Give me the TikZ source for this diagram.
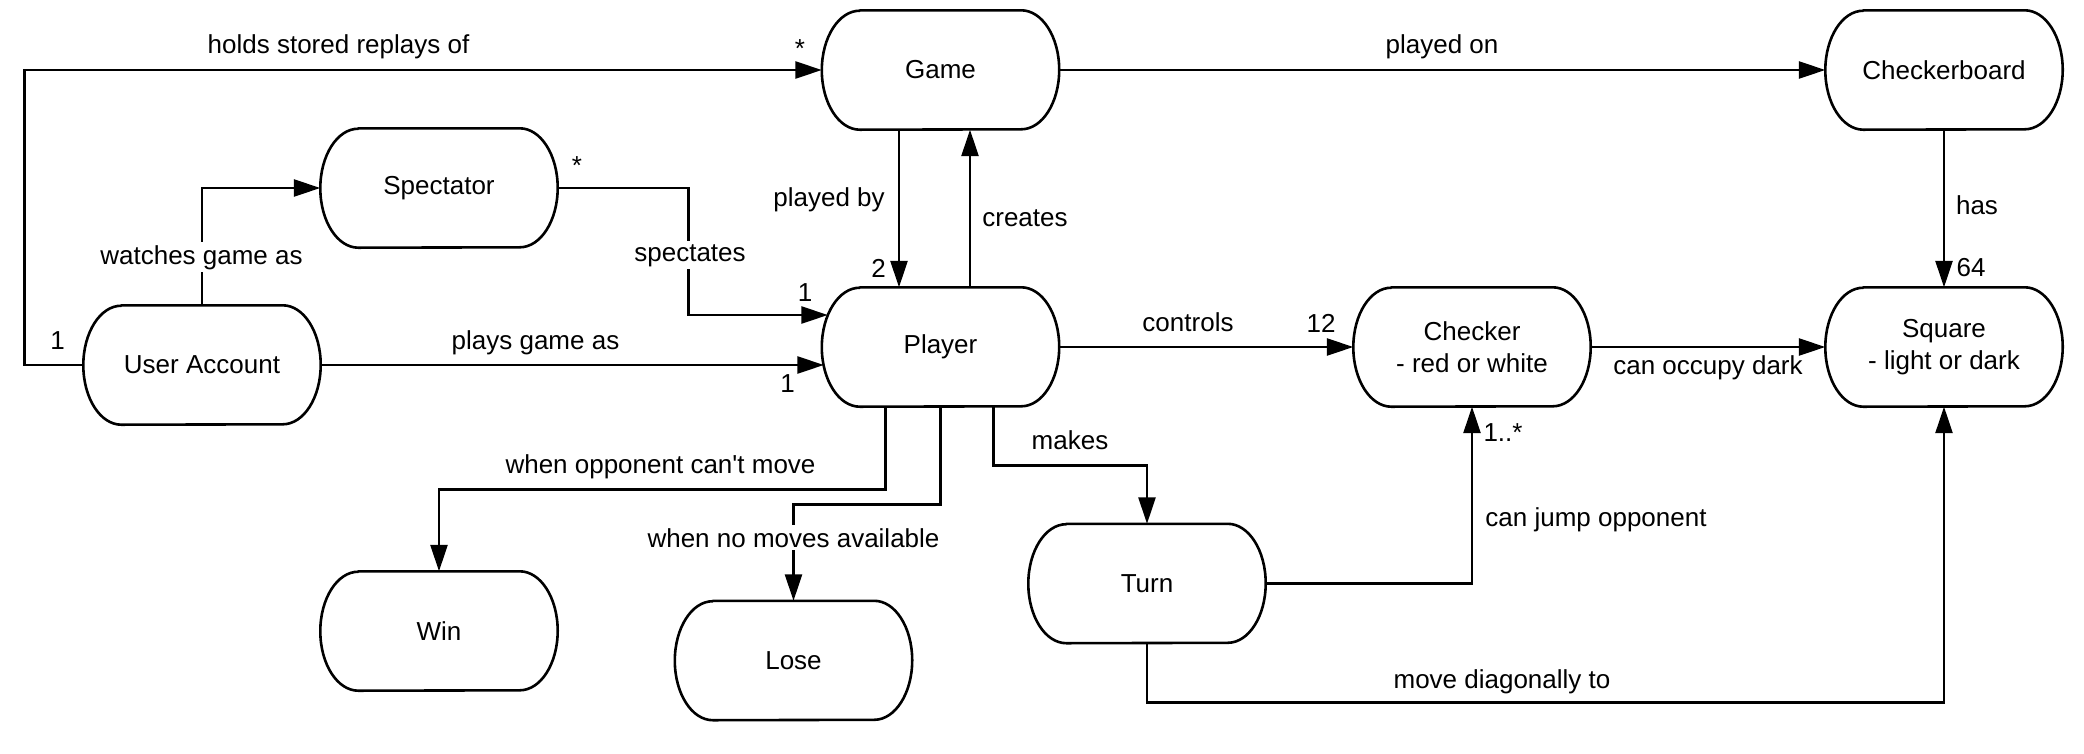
\documentclass[tikz,border=0pt]{standalone}
\usepackage{fontspec}
\setmainfont{Liberation Sans}[Ligatures=TeXOff]
\usetikzlibrary{arrows.meta}
\tikzset{
  x=1pt, y=1pt,
  termbox/.style={minimum width=237pt, minimum height=119pt, inner sep=0pt, align=center, font=\fontsize{26pt}{32pt}\selectfont},
  outline/.style={line width=2.6pt, line join=round},
  conn/.style={line width=2.6pt, -{Triangle[length=26.5pt,width=17pt]}},
  lbl/.style={font=\fontsize{26pt}{32pt}\selectfont, inner sep=0pt, anchor=base},
  lblw/.style={lbl, fill=white, inner xsep=2pt, inner ysep=3pt}
}
\newcommand{\termnode}[4]{%
  \node[termbox] (#1) at (#2,#3) {#4};
  \draw[outline] ([xshift=38pt]#1.north west) -- ([xshift=-38pt]#1.north east)
    arc[start angle=90, end angle=-90, x radius=38pt, y radius=59.5pt]
    -- ([xshift=38pt]#1.south west)
    arc[start angle=270, end angle=90, x radius=38pt, y radius=59.5pt] -- cycle;
}
\begin{document}
\begin{tikzpicture}
\useasboundingbox (0,0) rectangle (2084,-753);
\termnode{game}{940.5}{-70}{Game}
\termnode{board}{1944}{-70}{Checkerboard}
\termnode{spec}{439}{-188}{Spectator}
\termnode{ua}{202}{-365}{User Account}
\termnode{player}{940.5}{-347}{Player}
\termnode{checker}{1472}{-347}{Checker\\- red or white}
\termnode{square}{1944}{-347}{Square\\- light or dark}
\termnode{turn}{1147}{-583.5}{Turn}
\termnode{win}{439}{-631}{Win}
\termnode{lose}{793.5}{-660.5}{Lose}

% connectors
\draw[conn] (ua.west) -- ++(-59,0) |- (game.west);
\draw[conn] (ua.north) |- (spec.west);
\draw[conn] (spec.east) -- ++(131,0) |- ([xshift=6pt,yshift=32pt]player.west);
\draw[conn] (ua.east) -- ([xshift=2pt]player.west |- ua.east);
\draw[conn] ([xshift=-41.5pt]game.south) -- ([xshift=-41.5pt]player.north);
\draw[conn] ([xshift=29.5pt]player.north) -- ([xshift=29.5pt]game.south);
\draw[conn] (game.east) -- (board.west);
\draw[conn] (board.south) -- (square.north);
\draw[conn] (player.east) -- (checker.west);
\draw[conn] (checker.east) -- (square.west);
\draw[conn] ([xshift=-55pt]player.south) -- ++(0,-82.5) -| (win.north);
\draw[conn] (player.south) -- ++(0,-97.5) -| (lose.north);
\draw[conn] ([xshift=53pt]player.south) -- ++(0,-59) -| (turn.north);
\draw[conn] (turn.east) -| (checker.south);
\draw[conn] (turn.south) -- ++(0,-59.5) -| (square.south);

% labels
\node[lbl] (l1) at (338.5,-53) {holds stored replays of};
\node[lbl] (l2) at (800,-57) {*};
\node[lbl] (l3) at (57.5,-349) {1};
\node[lblw] (l4) at (201.5,-264) {watches game as};
\node[lblw] (l5) at (690,-261) {spectates};
\node[lbl] (l6) at (577,-174) {*};
\node[lbl] (l7) at (805,-301) {1};
\node[lbl] (l8) at (535.5,-349) {plays game as};
\node[lbl] (l9) at (787.7,-392) {1};
\node[lbl] (l10) at (829,-206) {played by};
\node[lbl] (l11) at (878.5,-277) {2};
\node[lbl] (l12) at (1025,-226) {creates};
\node[lbl] (l13) at (1442,-53) {played on};
\node[lbl] (l14) at (1977,-214) {has};
\node[lbl] (l15) at (1971,-276) {64};
\node[lbl] (l16) at (1188,-331) {controls};
\node[lbl] (l17) at (1321,-332) {12};
\node[lbl] (l18) at (1708,-374) {can occupy dark};
\node[lbl] (l19) at (660.5,-473) {when opponent can't move};
\node[lblw] (l20) at (793.5,-547) {when no moves available};
\node[lbl] (l21) at (1070,-449) {makes};
\node[lbl] (l22) at (1596,-526) {can jump opponent};
\node[lbl] (l23) at (1503,-441) {1..*};
\node[lbl] (l24) at (1502,-688) {move diagonally to};
\end{tikzpicture}
\end{document}
